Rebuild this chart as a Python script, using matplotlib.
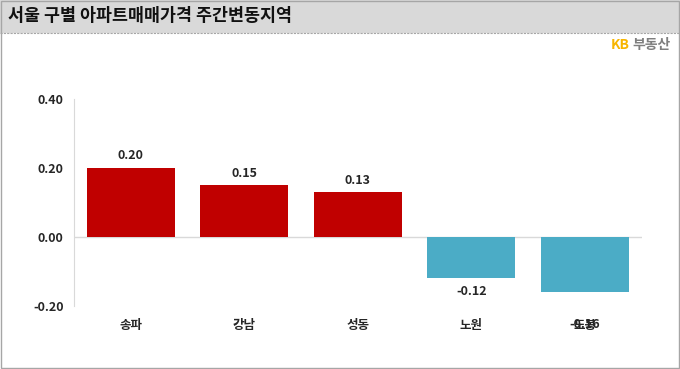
import matplotlib.pyplot as plt
from matplotlib.patches import Rectangle

plt.rcParams['font.family'] = ['Noto Sans CJK KR', 'DejaVu Sans']

# data
districts = ['송파', '강남', '성동', '노원', '도봉']
changes = [0.20, 0.15, 0.13, -0.12, -0.16]
value_labels = ['0.20', '0.15', '0.13', '-0.12', '-0.16']
y_ticks = [-0.20, 0.00, 0.20, 0.40]

red = '#c00000'
blue = '#4bacc6'
text_col = '#262626'

fig = plt.figure(figsize=(6.8, 3.69), dpi=100)

# title bar
fig.patches.append(Rectangle((0, 1 - 33 / 369), 1, 33 / 369, transform=fig.transFigure,
                             facecolor='#d9d9d9', edgecolor='none', zorder=0))
fig.lines.append(plt.Line2D([0, 1], [1 - 33 / 369] * 2, transform=fig.transFigure,
                            color='#a6a6a6', lw=0.8, ls=(0, (2, 1))))
fig.patches.append(Rectangle((0.001, 0.002), 0.997, 0.996, transform=fig.transFigure,
                             facecolor='none', edgecolor='#a6a6a6', lw=1))
fig.text(8 / 680, 1 - 16 / 369, '서울 구별 아파트매매가격 주간변동지역', fontsize=12.5,
         fontweight='bold', color='#111111', va='center', ha='left')
fig.text(630 / 680, 1 - 45 / 369, 'KB', fontsize=10, fontweight='bold', color='#f7b500',
         va='center', ha='right')
fig.text(632 / 680, 1 - 45 / 369, '부동산', fontsize=10, fontweight='bold', color='#7f7f7f',
         va='center', ha='left')

ax = fig.add_axes([74 / 680, 63 / 369, 567.5 / 680, 207 / 369])
x = range(len(districts))
colors = [red if v > 0 else blue for v in changes]
ax.bar(x, changes, width=0.775, color=colors, zorder=2)

ax.set_ylim(-0.20, 0.40)
ax.set_xlim(-0.5, len(districts) - 0.5)
ax.set_yticks(y_ticks)
ax.set_yticklabels(['%.2f' % t for t in y_ticks], fontsize=9, fontweight='bold', color=text_col)
ax.tick_params(axis='y', length=0, pad=7.5)
ax.set_xticks([])

for s in ['top', 'right', 'bottom']:
    ax.spines[s].set_visible(False)
ax.spines['left'].set_color('#d9d9d9')
ax.axhline(0, color='#d9d9d9', lw=1, zorder=1)

for i, (v, lab) in enumerate(zip(changes, value_labels)):
    ax.annotate(districts[i], (i, -0.20), xytext=(0, -19), textcoords='offset pixels',
                ha='center', va='center', fontsize=9, fontweight='bold', color=text_col)
    if v >= 0:
        off = 12
    elif i == len(changes) - 1:
        off = -32
    else:
        off = -13
    ax.annotate(lab, (i, v), xytext=(0, off), textcoords='offset pixels',
                ha='center', va='center', fontsize=9, fontweight='bold', color=text_col)

fig.savefig('out.png', dpi=100)
